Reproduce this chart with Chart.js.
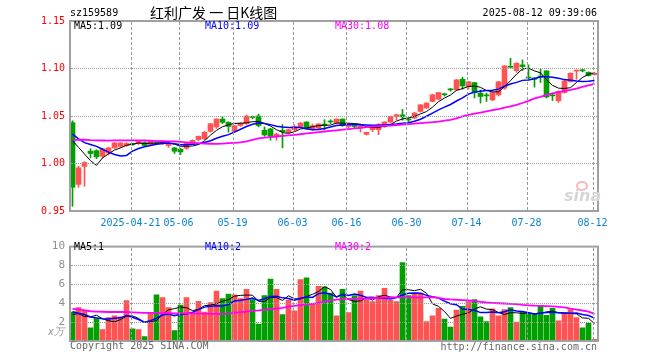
<!DOCTYPE html>
<html><head><meta charset="utf-8">
<script src="https://cdn.jsdelivr.net/npm/chart.js@4.4.1/dist/chart.umd.min.js"></script>
<style>
html,body{margin:0;padding:0;background:#fff;}
#wrap{position:relative;width:660px;height:360px;overflow:hidden;background:#fff;font-family:"DejaVu Sans Mono",monospace;}
#gridLayer{position:absolute;left:0;top:0;width:660px;height:360px;z-index:5;pointer-events:none;}
.t{position:absolute;white-space:nowrap;font-size:10px;line-height:12px;font-family:"DejaVu Sans Mono",monospace;z-index:6;}
canvas{position:absolute;left:0;z-index:1;}
.vg{position:absolute;width:0;border-left:1px dashed #9a9a9a;}
.hg{position:absolute;height:0;border-top:1px dotted #9a9a9a;}
</style></head><body>
<div id="wrap">
<canvas id="pc" width="660" height="235" style="top:0"></canvas>
<canvas id="vc" width="660" height="125" style="top:235px"></canvas>
<div id="gridLayer"></div>
<div class="t" id="code" style="left:70px;top:7px;color:#000"></div>
<div class="t" id="title" style="left:150px;top:3px;font-family:'Noto Sans CJK SC',sans-serif;font-size:14px;line-height:18px;color:#000"></div>
<div class="t" id="stamp" style="right:63px;top:7px;color:#000"></div>
<div class="t" id="pm5" style="left:74px;top:20px;color:#000"></div>
<div class="t" id="pm10" style="left:205px;top:20px;color:#0000ff"></div>
<div class="t" id="pm30" style="left:335px;top:20px;color:#ff00ff"></div>
<div class="t" id="vm5" style="left:74px;top:241px;color:#000"></div>
<div class="t" id="vm10" style="left:205px;top:241px;color:#0000ff"></div>
<div class="t" id="vm30" style="left:335px;top:241px;color:#ff00ff"></div>
<div class="t" id="unit" style="left:48px;top:326px;color:#999;font-style:italic">x万</div>
<div class="t" id="copy" style="left:70px;top:340px;color:#666"></div>
<div class="t" id="url" style="right:63px;top:341px;color:#666"></div>
<div style="position:absolute;z-index:6;left:576px;top:181px;width:8px;height:6px;border:2px solid #f6b8b8;border-radius:50%;"></div>
<div class="t" style="left:564px;top:187px;font-family:'DejaVu Sans',sans-serif;font-size:16px;line-height:18px;font-weight:bold;font-style:italic;color:#d6d6d6">sina</div>
</div>
<script>
// ---------- texts ----------
const codeText = 'sz159589';
const titleText = '红利广发 一 日K线图';
const stampText = '2025-08-12 09:39:06';
const priceLegend = ['MA5:1.09', 'MA10:1.09', 'MA30:1.08'];
const volLegend = ['MA5:1', 'MA10:2', 'MA30:2'];
const copyText = 'Copyright 2025 SINA.COM';
const urlText = 'http://finance.sina.com.cn';

// ---------- categories ----------
const dates = [
'04-07','04-08','04-09','04-10','04-11','04-14','04-15','04-16','04-17','04-18','04-21','04-22','04-23','04-24','04-25','04-28','04-29','04-30',
'05-06','05-07','05-08','05-09','05-12','05-13','05-14','05-15','05-16','05-19','05-20','05-21','05-22','05-23','05-26','05-27','05-28','05-29','05-30',
'06-03','06-04','06-05','06-06','06-09','06-10','06-11','06-12','06-13','06-16','06-17','06-18','06-19','06-20','06-23','06-24','06-25','06-26','06-27','06-30',
'07-01','07-02','07-03','07-04','07-07','07-08','07-09','07-10','07-11','07-14','07-15','07-16','07-17','07-18','07-21','07-22','07-23','07-24','07-25','07-28','07-29','07-30','07-31',
'08-01','08-04','08-05','08-06','08-07','08-08','08-11','08-12'];
const tickDates = ['04-21','05-06','05-19','06-03','06-16','06-30','07-14','07-28','08-12'];
const tickLabels = ['2025-04-21','05-06','05-19','06-03','06-16','06-30','07-14','07-28','08-12'];
const priceTicks = [0.95, 1.00, 1.05, 1.10, 1.15];
const volTicks = [0, 2, 4, 6, 8, 10];
const priceGridValues = [1.00, 1.05, 1.10];
const volGridValues = [2, 4, 6, 8];

// ---------- series ----------
const openP = [1.043,0.978,0.997,1.013,1.0135,1.0077,1.011,1.0164,1.018,1.019,
1.0205,1.021,1.022,1.020,1.0215,1.021,1.019,1.0164,1.015,1.016,
1.021,1.0252,1.026,1.0339,1.0385,1.0468,1.0433,1.034,1.040,1.042,
1.049,1.050,1.035,1.0364,1.0286,1.035,1.0328,1.0356,1.0385,1.0437,
1.0363,1.037,1.041,1.0442,1.0426,1.0468,1.039,1.041,1.0375,1.0307,
1.0356,1.0356,1.039,1.0437,1.0495,1.0512,1.0468,1.0478,1.0548,1.0584,
1.0653,1.0678,1.0728,1.078,1.0775,1.0887,1.081,1.0852,1.074,1.0715,
1.067,1.0723,1.0793,1.1017,1.0978,1.1038,1.091,1.090,1.0915,1.0975,
1.0717,1.066,1.0747,1.0863,1.0972,1.0978,1.096,1.0935];
const highP = [1.045,0.997,1.002,1.0155,1.0145,1.016,1.017,1.022,1.022,1.022,
1.021,1.024,1.023,1.024,1.022,1.024,1.022,1.017,1.016,1.022,
1.025,1.029,1.034,1.042,1.047,1.0496,1.044,1.040,1.043,1.051,
1.050,1.052,1.0385,1.037,1.032,1.041,1.036,1.0405,1.043,1.044,
1.0415,1.042,1.0461,1.0461,1.047,1.047,1.042,1.0415,1.040,1.033,
1.0395,1.042,1.044,1.050,1.052,1.057,1.0478,1.054,1.062,1.064,
1.073,1.075,1.074,1.079,1.0885,1.0909,1.0865,1.0855,1.0775,1.0741,
1.075,1.0865,1.103,1.1108,1.106,1.109,1.1038,1.0905,1.0992,1.0978,
1.0741,1.0765,1.0875,1.0955,1.0985,1.099,1.0965,1.0955];
const lowP = [0.955,0.975,0.976,1.006,1.005,1.006,1.009,1.016,1.017,1.018,
1.019,1.020,1.018,1.019,1.020,1.020,1.017,1.0105,1.0094,1.015,
1.0205,1.024,1.025,1.033,1.037,1.042,1.033,1.033,1.039,1.041,
1.047,1.0385,1.0286,1.0244,1.0244,1.0164,1.032,1.0345,1.038,1.036,
1.035,1.036,1.0356,1.042,1.042,1.039,1.0375,1.0375,1.033,1.030,
1.0335,1.0304,1.038,1.043,1.046,1.0455,1.044,1.047,1.054,1.058,
1.065,1.067,1.071,1.076,1.077,1.0783,1.0783,1.069,1.0636,1.0653,
1.066,1.071,1.078,1.1003,1.0961,1.0978,1.0888,1.0804,1.0852,1.069,
1.0663,1.0643,1.074,1.0855,1.0887,1.0965,1.092,1.093];
const closeP = [0.975,0.9955,1.001,1.0105,1.007,1.0154,1.0164,1.0217,1.0217,1.021,
1.020,1.0234,1.019,1.0234,1.021,1.0234,1.021,1.0129,1.0122,1.0217,
1.0244,1.0286,1.0328,1.0419,1.0468,1.0433,1.039,1.0398,1.0425,1.050,
1.0485,1.040,1.030,1.0286,1.031,1.0335,1.0356,1.039,1.0426,1.0363,
1.0398,1.0416,1.0405,1.0437,1.0468,1.0398,1.041,1.039,1.0398,1.0328,
1.038,1.041,1.0437,1.0495,1.0513,1.049,1.0458,1.0531,1.0618,1.0636,
1.0723,1.0747,1.0723,1.0775,1.088,1.0817,1.086,1.0747,1.0705,1.0712,
1.0747,1.086,1.1027,1.1013,1.1055,1.102,1.090,1.0887,1.091,1.070,
1.0712,1.0758,1.087,1.095,1.0975,1.0975,1.0925,1.095];
const ma5P = [1.024,1.017,1.010,1.003,0.998,1.0059,1.0101,1.0142,1.0164,1.0192,
1.0202,1.0216,1.0210,1.0214,1.0214,1.0220,1.0216,1.0203,1.0181,1.0182,
1.0184,1.0200,1.0239,1.0299,1.0349,1.0387,1.0408,1.0422,1.0423,1.0429,
1.0440,1.0442,1.0422,1.0394,1.0356,1.0326,1.0317,1.0335,1.0363,1.0374,
1.0387,1.0399,1.0402,1.0404,1.0425,1.0425,1.0424,1.0421,1.0413,1.0385,
1.0381,1.0381,1.0391,1.0410,1.0447,1.0469,1.0479,1.0497,1.0522,1.0547,
1.0593,1.0651,1.0689,1.0721,1.0770,1.0788,1.0811,1.0816,1.0802,1.0768,
1.0754,1.0754,1.0810,1.0872,1.0940,1.0995,1.1003,1.0975,1.0954,1.0883,
1.0822,1.0793,1.0790,1.0798,1.0853,1.0906,1.0939,1.0955];
const ma10P = [1.031,1.026,1.022,1.020,1.018,1.015,1.012,1.0095,1.0078,1.0085,
1.0130,1.0158,1.0176,1.0189,1.0203,1.0211,1.0216,1.0207,1.0197,1.0198,
1.0202,1.0208,1.0221,1.0240,1.0266,1.0286,1.0304,1.0331,1.0361,1.0389,
1.0413,1.0425,1.0422,1.0409,1.0393,1.0383,1.0380,1.0379,1.0379,1.0365,
1.0356,1.0358,1.0369,1.0384,1.0399,1.0406,1.0411,1.0411,1.0408,1.0405,
1.0403,1.0402,1.0406,1.0411,1.0416,1.0425,1.0430,1.0444,1.0466,1.0497,
1.0531,1.0565,1.0593,1.0621,1.0658,1.0691,1.0731,1.0753,1.0761,1.0769,
1.0771,1.0783,1.0813,1.0837,1.0854,1.0875,1.0879,1.0893,1.0913,1.0912,
1.0908,1.0898,1.0883,1.0876,1.0868,1.0864,1.0867,1.0873];
const ma30P = [1.0244,1.0252,1.025,1.0245,1.0243,1.0242,1.0241,1.0243,1.0244,1.0244,
1.0244,1.0244,1.0242,1.024,1.0236,1.0234,1.0233,1.0232,1.0228,1.0222,
1.0217,1.0214,1.021,1.0208,1.0206,1.021,1.0215,1.0218,1.0222,1.0232,
1.0249,1.0265,1.0272,1.0278,1.0284,1.029,1.0295,1.0301,1.0308,1.0316,
1.0323,1.033,1.0337,1.0343,1.0349,1.0356,1.0362,1.0369,1.0376,1.0384,
1.0391,1.0394,1.0397,1.04,1.0405,1.041,1.0414,1.0419,1.0425,1.0431,
1.0435,1.0441,1.0452,1.046,1.0476,1.0496,1.0512,1.0524,1.0535,1.0548,
1.0561,1.0573,1.0587,1.0601,1.0617,1.0637,1.066,1.0685,1.0702,1.0722,
1.0738,1.0752,1.0765,1.0775,1.0788,1.0806,1.0822,1.0838];
const volume = [3.07,3.53,3.27,1.4,2.4,1.2,2.47,2.67,2.57,4.27,
1.3,1.2,0.47,3.0,4.9,4.6,3.53,1.1,3.8,4.6,
3.07,4.2,3.07,4.07,5.3,4.5,4.97,4.9,4.5,5.47,
4.4,1.8,4.8,6.57,5.47,2.8,4.33,3.2,6.5,6.7,
4.0,5.8,5.73,5.07,2.67,5.47,3.0,4.8,5.3,4.4,
4.17,4.8,5.57,4.3,4.17,8.3,4.8,5.07,5.07,2.07,
2.67,3.47,2.33,1.47,3.27,3.67,4.17,4.4,2.57,2.07,
3.4,2.67,3.33,3.53,2.0,3.07,2.93,2.93,3.73,2.73,
3.47,2.13,2.93,3.33,2.47,1.4,1.87,0.17];
const ma5V = [2.8,2.9,2.6,2.55,2.73,2.36,2.15,2.03,2.26,2.64,
2.66,2.40,1.96,2.05,2.17,2.83,3.30,3.43,3.59,3.53,
3.22,3.35,3.75,3.80,3.94,4.23,4.38,4.75,4.83,4.87,
4.85,4.21,4.19,4.61,4.61,4.29,4.79,4.47,4.46,4.71,
4.95,5.24,5.75,5.46,4.65,4.95,4.39,4.20,4.25,4.59,
4.33,4.69,4.85,4.65,4.60,5.43,5.43,5.33,5.48,5.06,
3.94,3.67,3.12,2.40,2.64,2.84,2.98,3.40,3.62,3.38,
3.32,3.02,2.81,3.00,2.99,2.92,2.97,2.89,2.93,3.08,
3.16,3.00,3.00,2.92,2.87,2.45,2.40,1.85];
const ma10V = [3.1,2.95,2.8,2.55,2.45,2.35,2.33,2.4,2.45,2.69,
2.51,2.28,2.00,2.16,2.41,2.75,2.85,2.69,2.82,2.85,
3.03,3.33,3.59,3.69,3.73,3.72,3.87,4.25,4.32,4.41,
4.54,4.30,4.47,4.72,4.74,4.57,4.50,4.33,4.53,4.66,
4.62,5.02,5.11,4.96,4.68,4.95,4.81,4.97,4.85,4.62,
4.64,4.54,4.53,4.45,4.60,4.88,5.06,5.09,5.07,4.83,
4.68,4.55,4.23,3.94,3.85,3.39,3.33,3.26,3.01,3.01,
3.08,3.00,3.10,3.31,3.18,3.12,3.00,2.85,2.97,3.03,
3.04,2.99,2.95,2.93,2.97,2.81,2.70,2.42];
const ma30V = [3.40,3.34,3.25,3.15,3.12,3.10,3.07,3.07,3.07,3.07,
3.03,3.0,2.97,2.97,2.97,2.96,2.95,2.93,2.93,2.93,
2.93,2.91,2.89,2.87,2.87,2.87,2.9,2.97,3.05,3.12,
3.2,3.24,3.3,3.37,3.42,3.5,3.64,3.72,3.8,3.88,
3.94,4.02,4.17,4.3,4.38,4.42,4.46,4.47,4.49,4.5,
4.53,4.56,4.59,4.61,4.63,4.63,4.63,4.63,4.63,4.63,
4.64,4.56,4.45,4.4,4.37,4.33,4.3,4.22,4.15,4.08,
4.04,4.0,3.97,3.93,3.9,3.82,3.78,3.74,3.72,3.7,
3.67,3.62,3.57,3.43,3.33,3.23,3.1,2.88];

// ---------- fill texts ----------
document.getElementById('code').textContent = codeText;
document.getElementById('title').textContent = titleText;
document.getElementById('stamp').textContent = stampText;
['pm5','pm10','pm30'].forEach((id,k)=>document.getElementById(id).textContent = priceLegend[k]);
['vm5','vm10','vm30'].forEach((id,k)=>document.getElementById(id).textContent = volLegend[k]);
document.getElementById('copy').textContent = copyText;
document.getElementById('url').textContent = urlText;

// ---------- charts ----------
const N = dates.length;
const idx = dates.map((d, i) => i);
const RED = '#ff5252', GREEN = '#00a000';
const candleColor = idx.map(i => closeP[i] >= openP[i] ? RED : GREEN);
const tickIdx = tickDates.map(d => dates.indexOf(d));
const MONO = {family: 'DejaVu Sans Mono', size: 10};
const X_MIN = -0.5 + 1/12;

const frame = {
  id: 'frame',
  afterDraw(c) {
    const a = c.chartArea, ctx = c.ctx;
    ctx.save();
    ctx.strokeStyle = '#a0a0a0';
    ctx.lineWidth = 2;
    ctx.strokeRect(a.left, a.top, a.right - a.left, a.bottom - a.top);
    ctx.restore();
  }
};

function xAxis(showLabels, h) {
  return {
    type: 'linear', min: X_MIN, max: X_MIN + N, offset: false,
    afterBuildTicks: s => { s.ticks = tickIdx.map(v => ({value: v - 1/3})); },
    afterFit: s => { s.height = h; },
    ticks: {display: showLabels, autoSkip: false, maxRotation: 0, minRotation: 0,
      color: '#0a84d0', font: MONO, padding: 6,
      callback: (v, k) => tickLabels[k]},
    grid: {display: false, drawTicks: false},
    border: {display: false}
  };
}

const lineDs = (arr, color, w) => ({
  type: 'line', data: idx.map(i => ({x: i, y: arr[i]})), borderColor: color,
  borderWidth: w, pointRadius: 0, tension: 0, order: 0, fill: false
});

const common = {
  responsive: false, animation: false, events: [], devicePixelRatio: 1
};

const priceChart = new Chart(document.getElementById('pc'), {
  type: 'bar',
  data: {datasets: [
    {type: 'bar', data: idx.map(i => ({x: i, y: [lowP[i], highP[i]]})), backgroundColor: candleColor,
     barThickness: 1, grouped: false, order: 2},
    {type: 'bar', data: idx.map(i => ({x: i, y: [openP[i], closeP[i]]})), backgroundColor: candleColor,
     barThickness: 5, minBarLength: 1, grouped: false, order: 1},
    lineDs(ma30P, '#ff00ff', 1.8),
    lineDs(ma10P, '#0000ff', 1.5),
    lineDs(ma5P, '#000000', 1)
  ]},
  options: Object.assign({}, common, {
    plugins: {legend: {display: false}, tooltip: {enabled: false}},
    layout: {padding: {left: 0, right: 62, top: 21, bottom: 0}},
    scales: {
      x: xAxis(true, 24),
      y: {type: 'linear', min: 0.95, max: 1.15, position: 'left',
        afterBuildTicks: s => { s.ticks = priceTicks.map(v => ({value: v})); },
        afterFit: s => { s.width = 70; },
        ticks: {color: '#ff0000', font: MONO, padding: 5, callback: v => v.toFixed(2)},
        grid: {display: false, drawTicks: false},
        border: {display: false}}
    }
  }),
  plugins: [frame]
});

const volChart = new Chart(document.getElementById('vc'), {
  type: 'bar',
  data: {datasets: [
    {type: 'bar', data: idx.map(i => ({x: i, y: volume[i]})), backgroundColor: candleColor,
     barThickness: 5, grouped: false, order: 1},
    lineDs(ma30V, '#ff00ff', 1.8),
    lineDs(ma10V, '#0000ff', 1.5),
    lineDs(ma5V, '#000000', 1)
  ]},
  options: Object.assign({}, common, {
    plugins: {legend: {display: false}, tooltip: {enabled: false}},
    layout: {padding: {left: 0, right: 62, top: 6, bottom: 0}},
    scales: {
      x: xAxis(false, 19),
      y: {type: 'linear', min: 0, max: 10, position: 'left',
        afterBuildTicks: s => { s.ticks = volTicks.map(v => ({value: v})); },
        afterFit: s => { s.width = 70; },
        ticks: {color: '#909090', font: {family: 'DejaVu Sans Mono', size: 11}, padding: 5,
          callback: v => v === 0 ? '' : String(v)},
        grid: {display: false, drawTicks: false},
        border: {display: false}}
    }
  }),
  plugins: [frame]
});

// grid lines as an overlay layer, placed with each chart's own scales
function addGrid(chart, canvasTop, values) {
  const a = chart.chartArea, xs = chart.scales.x, ys = chart.scales.y;
  const layer = document.getElementById('gridLayer');
  const top = Math.round(a.top), bot = Math.round(a.bottom);
  const left = Math.round(a.left), right = Math.round(a.right);
  tickIdx.forEach(i => {
    const x = Math.round(xs.getPixelForValue(i - 1/3));
    const d = document.createElement('div');
    d.className = 'vg';
    d.style.left = x + 'px';
    d.style.top = (canvasTop + top + 1) + 'px';
    d.style.height = (bot - top - 2) + 'px';
    layer.appendChild(d);
  });
  values.forEach(v => {
    const y = Math.round(ys.getPixelForValue(v));
    const d = document.createElement('div');
    d.className = 'hg';
    d.style.top = (canvasTop + y) + 'px';
    d.style.left = (left + 1) + 'px';
    d.style.width = (right - left - 2) + 'px';
    layer.appendChild(d);
  });
}
addGrid(priceChart, 0, priceGridValues);
addGrid(volChart, 235, volGridValues);
</script>
</body></html>
